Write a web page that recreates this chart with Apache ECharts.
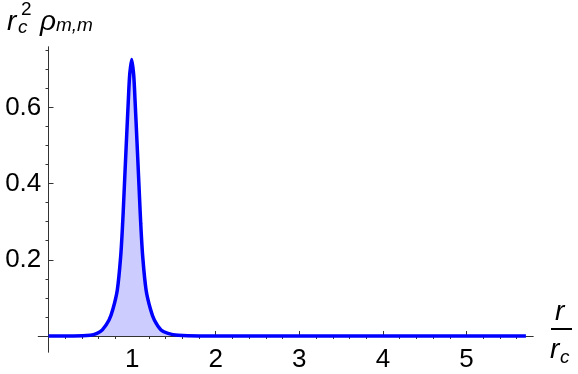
<!DOCTYPE html>
<html>
<head>
<meta charset="utf-8">
<script src="https://cdn.jsdelivr.net/npm/echarts@6/dist/echarts.min.js"></script>
<style>html,body{margin:0;padding:0;background:#fff}#c{width:578px;height:374px}</style>
</head>
<body>
<div id="c"></div>
<script>
// r / r_c values
const rValues = [0, 0.3, 0.5, 0.58, 0.644, 0.724, 0.77, 0.823, 0.863, 0.887, 0.9, 0.927, 0.955, 0.971, 0.995, 1.019, 1.035, 1.063, 1.09, 1.103, 1.127, 1.167, 1.22, 1.266, 1.346, 1.43, 1.55, 1.8, 2, 3, 4, 5, 5.71];
// r_c^2 rho_{m,m}
const rhoValues = [0, 0, 0.002, 0.007, 0.016, 0.042, 0.07, 0.121, 0.208, 0.296, 0.357, 0.488, 0.619, 0.685, 0.726, 0.685, 0.619, 0.488, 0.357, 0.296, 0.208, 0.121, 0.07, 0.042, 0.016, 0.007, 0.002, 0, 0, 0, 0, 0, 0];
const xMajorTicks = [1, 2, 3, 4, 5];
const xMinorTicks = [0.2, 0.4, 0.6, 0.8, 1.2, 1.4, 1.6, 1.8, 2.2, 2.4, 2.6, 2.8, 3.2, 3.4, 3.6, 3.8, 4.2, 4.4, 4.6, 4.8, 5.2, 5.4, 5.6];
const yMajorTicks = [0.2, 0.4, 0.6];
const yMinorTicks = [0.05, 0.1, 0.15, 0.25, 0.3, 0.35, 0.45, 0.5, 0.55, 0.65, 0.7, 0.75];

const axisColor = '#333';
const labelFont = 'Liberation Sans';
const chart = echarts.init(document.getElementById('c'), null, {renderer: 'canvas'});
const data = rValues.map((r, i) => [r, rhoValues[i]]);

function xAxisCfg(ticks, len, labels) {
  return {
    type: 'value', min: -0.122, max: 5.795,
    axisLine: {show: true, onZero: true, lineStyle: {color: axisColor, width: 1}},
    axisTick: {show: true, inside: true, length: len, customValues: ticks, lineStyle: {color: axisColor, width: 1}},
    axisLabel: labels ? {show: true, customValues: ticks, margin: -5, fontSize: 26, fontFamily: labelFont, color: '#000'} : {show: false},
    splitLine: {show: false}
  };
}
function yAxisCfg(ticks, len, labels) {
  return {
    type: 'value', min: -0.042, max: 0.7585,
    axisLine: {show: true, onZero: true, lineStyle: {color: axisColor, width: 1}},
    axisTick: {show: true, inside: true, length: len, customValues: ticks, lineStyle: {color: axisColor, width: 1}},
    axisLabel: labels ? {show: true, customValues: ticks, margin: -3, fontSize: 26, fontFamily: labelFont, color: '#000', formatter: v => v.toFixed(1)} : {show: false},
    splitLine: {show: false}
  };
}

function txt(x, y, text, size, italic) {
  return {type: 'text', x: x, y: y, z: 100, style: {text: text, fontSize: size, fontFamily: labelFont, fontStyle: italic ? 'italic' : 'normal', fill: '#000', verticalAlign: 'middle', align: 'left'}};
}

chart.setOption({
  animation: false,
  grid: {left: 38.3, right: 45, top: 47, bottom: 22, containLabel: false, outerBoundsMode: 'none'},
  xAxis: [xAxisCfg(xMajorTicks, 5, true), xAxisCfg(xMinorTicks, 3, false)],
  yAxis: [yAxisCfg(yMajorTicks, 5, true), yAxisCfg(yMinorTicks, 3, false)],
  series: [{
    type: 'line', xAxisIndex: 0, yAxisIndex: 0, data: data,
    showSymbol: false, smooth: 0.3,
    lineStyle: {color: '#0000ff', width: 3.5},
    areaStyle: {color: '#ccccff', opacity: 1, origin: 0},
    z: 10
  }],
  graphic: [
    txt(7, 22, 'r', 28, true),
    txt(21, 9.5, '2', 19, false),
    txt(18, 27.5, 'c', 19, true),
    txt(40, 22.5, 'ρ', 28, true),
    txt(56, 25.5, 'm,m', 19, true),
    txt(555, 312, 'r', 28, true),
    {type: 'line', z: 100, shape: {x1: 551, y1: 329, x2: 572, y2: 329}, style: {stroke: '#000', lineWidth: 2}},
    txt(550, 350, 'r', 28, true),
    txt(560, 358, 'c', 19, true)
  ]
});
</script>
</body>
</html>
